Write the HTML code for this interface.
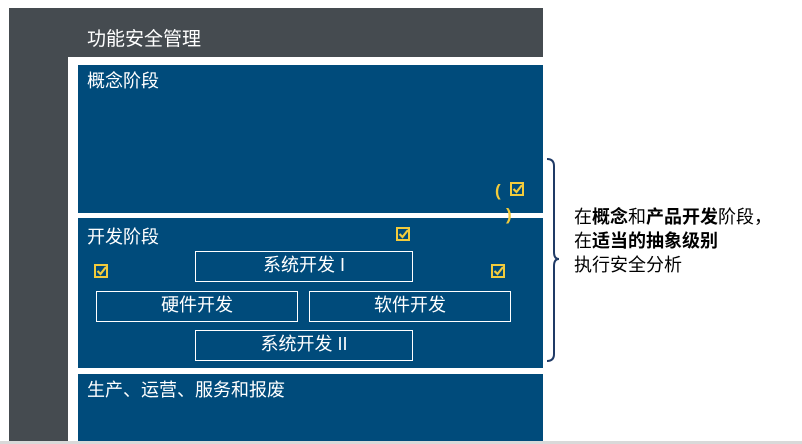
<!DOCTYPE html>
<html><head><meta charset="utf-8"><style>
body{margin:0;width:802px;height:444px;background:#fff;position:relative;overflow:hidden;font-family:"Liberation Sans","Noto Sans CJK SC",sans-serif}
.a{position:absolute}
.blue{background:#004b7b;position:absolute;left:78px;width:465px}
.t{color:#fff;font-size:18px;position:absolute}
.bx{position:absolute;border:1px solid #fff;color:#fff;font-size:18px;text-align:center;box-sizing:border-box;line-height:27px}
</style></head><body>
<div class="a" style="left:9px;top:8px;width:534px;height:433px;background:#454b50"></div>
<div class="a" style="left:68px;top:57px;width:475px;height:384px;background:#fff"></div>
<div class="a" style="left:0;top:441px;width:802px;height:3px;background:#d9d9d9"></div>
<div class="t" style="left:87px;top:24px;font-size:19px">功能安全管理</div>
<div class="blue" style="top:65px;height:148px"></div>
<div class="blue" style="top:218px;height:150px"></div>
<div class="blue" style="top:374px;height:67px"></div>
<div class="t" style="left:87px;top:67px">概念阶段</div>
<div class="t" style="left:87px;top:223px">开发阶段</div>
<div class="t" style="left:87px;top:376px">生产、运营、服务和报废</div>
<div class="bx" style="left:195px;top:251px;width:218px;height:31px">系统开发 I</div>
<div class="bx" style="left:96px;top:291px;width:202px;height:31px">硬件开发</div>
<div class="bx" style="left:309px;top:291px;width:202px;height:31px">软件开发</div>
<div class="bx" style="left:195px;top:330px;width:218px;height:31px">系统开发 II</div>
<svg class="a" style="left:0;top:0" width="802" height="444">
<defs><g id="c"><rect x="1" y="1" width="12" height="12" fill="none" stroke="#f2cb3c" stroke-width="2"/><path d="M3.5 7 L6.5 10 L12 3" fill="none" stroke="#f2cb3c" stroke-width="2.2"/></g></defs>
<use href="#c" x="396" y="227"/>
<use href="#c" x="94" y="264"/>
<use href="#c" x="491" y="264"/>
<use href="#c" x="510" y="182"/>
<text x="495" y="196" fill="#f2cb3c" font-size="17" font-weight="bold" font-family="Liberation Sans,sans-serif">(</text>
<text x="506" y="220" fill="#f2cb3c" font-size="17" font-weight="bold" font-family="Liberation Sans,sans-serif">)</text>
<path d="M547 159 Q554 159 554 166 L554 252 Q554 259 559 259 Q554 259 554 266 L554 354 Q554 361 547 361" fill="none" stroke="#1f3a66" stroke-width="2"/>
</svg>
<div class="a" style="left:574px;top:205px;font-size:18px;line-height:24px;color:#000">在<b>概念</b>和<b>产品开发</b>阶段，<br>在<b>适当的抽象级别</b><br>执行安全分析</div>
</body></html>
